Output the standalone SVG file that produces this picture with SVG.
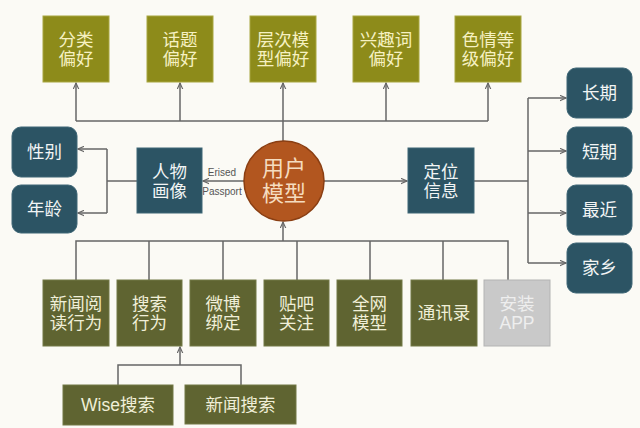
<svg xmlns="http://www.w3.org/2000/svg" width="640" height="428" viewBox="0 0 640 428">
<defs>
<marker id="arr" viewBox="0 0 10 10" refX="9" refY="5" markerWidth="7" markerHeight="7" markerUnits="userSpaceOnUse" orient="auto">
<path d="M0,1 L9,5 L0,9" fill="none" stroke="#666" stroke-width="1.6"/>
</marker>
<style>
.bg{fill:#fbfaf5}
.top{fill:#8d8b1a;stroke:#a8a640;stroke-width:1}
.teal{fill:#2c5464;stroke:#3e6676;stroke-width:1}
.olv{fill:#5f6431;stroke:#737846;stroke-width:1}
.gray{fill:#c9c9c9;stroke:#b3b3b3;stroke-width:1}
.t{font-family:"Noto Sans CJK SC","Liberation Sans",sans-serif;text-anchor:middle;font-size:17.5px}
.ty{fill:#f6f1c2}
.tw{fill:#f2f5f5}
.tb{fill:#f0efd8}
.tg{fill:#eeeeee}
.tc{fill:#f5dcbf;font-size:22px}
.lat{font-family:"Liberation Sans",Arial,sans-serif}
.lab{font-family:"Liberation Sans",Arial,sans-serif;font-size:10px;fill:#555;text-anchor:middle}
.ln{fill:none;stroke:#666;stroke-width:1.5}
</style>
</defs>
<rect class="bg" x="0" y="0" width="640" height="428"/>

<g id="connectors">
<path class="ln" d="M283,141 V121"/>
<path class="ln" d="M76,121 H488"/>
<path class="ln" d="M76,121 V83" marker-end="url(#arr)"/>
<path class="ln" d="M180,121 V83" marker-end="url(#arr)"/>
<path class="ln" d="M283,121 V83" marker-end="url(#arr)"/>
<path class="ln" d="M386,121 V83" marker-end="url(#arr)"/>
<path class="ln" d="M488,121 V83" marker-end="url(#arr)"/>
<path class="ln" d="M244,181 H203" marker-end="url(#arr)"/>
<path class="ln" d="M137,181 H107"/>
<path class="ln" d="M107,149 V213"/>
<path class="ln" d="M107,149 H78" marker-end="url(#arr)"/>
<path class="ln" d="M107,213 H78" marker-end="url(#arr)"/>
<path class="ln" d="M324,181 H407" marker-end="url(#arr)"/>
<path class="ln" d="M474,181 H528"/>
<path class="ln" d="M528,98 V263"/>
<path class="ln" d="M528,98 H566" marker-end="url(#arr)"/>
<path class="ln" d="M528,151 H566" marker-end="url(#arr)"/>
<path class="ln" d="M528,213 H566" marker-end="url(#arr)"/>
<path class="ln" d="M528,263 H566" marker-end="url(#arr)"/>
<path class="ln" d="M283,241 V222" marker-end="url(#arr)"/>
<path class="ln" d="M76,280 V241 H508 V280"/>
<path class="ln" d="M149,241 V280"/>
<path class="ln" d="M223,241 V280"/>
<path class="ln" d="M297,241 V280"/>
<path class="ln" d="M370,241 V280"/>
<path class="ln" d="M443,241 V280"/>
<path class="ln" d="M118,385 V365 H241 V385"/>
<path class="ln" d="M180,365 V347" marker-end="url(#arr)"/>
<text class="lab" x="222" y="176">Erised</text>
<text class="lab" x="222" y="195">Passport</text>
</g>

<g id="n-fenlei"><rect class="top" x="43" y="16" width="66" height="66"/><text class="t ty" x="76" y="46">分类<tspan x="76" dy="19">偏好</tspan></text></g>
<g id="n-huati"><rect class="top" x="147" y="16" width="66" height="66"/><text class="t ty" x="180" y="46">话题<tspan x="180" dy="19">偏好</tspan></text></g>
<g id="n-cengci"><rect class="top" x="250" y="16" width="66" height="66"/><text class="t ty" x="283" y="46">层次模<tspan x="283" dy="19">型偏好</tspan></text></g>
<g id="n-xingqu"><rect class="top" x="353" y="16" width="66" height="66"/><text class="t ty" x="386" y="46">兴趣词<tspan x="386" dy="19">偏好</tspan></text></g>
<g id="n-seqing"><rect class="top" x="455" y="16" width="66" height="66"/><text class="t ty" x="488" y="46">色情等<tspan x="488" dy="19">级偏好</tspan></text></g>

<g id="n-xingbie"><rect class="teal" x="12" y="127" width="65" height="50" rx="9"/><text class="t tw" x="44.5" y="158">性别</text></g>
<g id="n-nianling"><rect class="teal" x="12" y="185" width="65" height="48" rx="9"/><text class="t tw" x="44.5" y="215">年龄</text></g>
<g id="n-renwu"><rect class="teal" x="137" y="148" width="65" height="65"/><text class="t tw" x="169.5" y="178">人物<tspan x="169.5" dy="19">画像</tspan></text></g>

<g id="n-user"><circle cx="284" cy="181" r="40" fill="#b2561f" stroke="#8a3e12" stroke-width="1.5"/><text class="t tc" x="284" y="176">用户<tspan x="284" dy="25">模型</tspan></text></g>

<g id="n-dingwei"><rect class="teal" x="408" y="148" width="66" height="65"/><text class="t tw" x="441" y="178">定位<tspan x="441" dy="19">信息</tspan></text></g>

<g id="n-changqi"><rect class="teal" x="567" y="68" width="65" height="50" rx="9"/><text class="t tw" x="599.5" y="99">长期</text></g>
<g id="n-duanqi"><rect class="teal" x="567" y="127" width="65" height="50" rx="9"/><text class="t tw" x="599.5" y="158">短期</text></g>
<g id="n-zuijin"><rect class="teal" x="567" y="185" width="65" height="50" rx="9"/><text class="t tw" x="599.5" y="216">最近</text></g>
<g id="n-jiaxiang"><rect class="teal" x="567" y="243" width="65" height="50" rx="9"/><text class="t tw" x="599.5" y="274">家乡</text></g>

<g id="n-xinwen"><rect class="olv" x="43" y="280" width="66" height="66"/><text class="t tb" x="76" y="310">新闻阅<tspan x="76" dy="19">读行为</tspan></text></g>
<g id="n-sousuo"><rect class="olv" x="117" y="280" width="65" height="66"/><text class="t tb" x="149.5" y="310">搜索<tspan x="149.5" dy="19">行为</tspan></text></g>
<g id="n-weibo"><rect class="olv" x="190" y="280" width="66" height="66"/><text class="t tb" x="223" y="310">微博<tspan x="223" dy="19">绑定</tspan></text></g>
<g id="n-tieba"><rect class="olv" x="264" y="280" width="65" height="66"/><text class="t tb" x="296.5" y="310">贴吧<tspan x="296.5" dy="19">关注</tspan></text></g>
<g id="n-quanwang"><rect class="olv" x="337" y="280" width="65" height="66"/><text class="t tb" x="369.5" y="310">全网<tspan x="369.5" dy="19">模型</tspan></text></g>
<g id="n-tongxun"><rect class="olv" x="411" y="280" width="66" height="66"/><text class="t tb" x="444" y="319">通讯录</text></g>
<g id="n-anzhuang"><rect class="gray" x="484" y="280" width="66" height="66"/><text class="t tg" x="517" y="310">安装<tspan class="lat" x="517" dy="19">APP</tspan></text></g>

<g id="n-wise"><rect class="olv" x="63" y="385" width="110" height="40"/><text class="t tb" x="118" y="411"><tspan class="lat">Wise</tspan>搜索</text></g>
<g id="n-xinwensousuo"><rect class="olv" x="185" y="385" width="111" height="39"/><text class="t tb" x="240.5" y="411">新闻搜索</text></g>
</svg>
